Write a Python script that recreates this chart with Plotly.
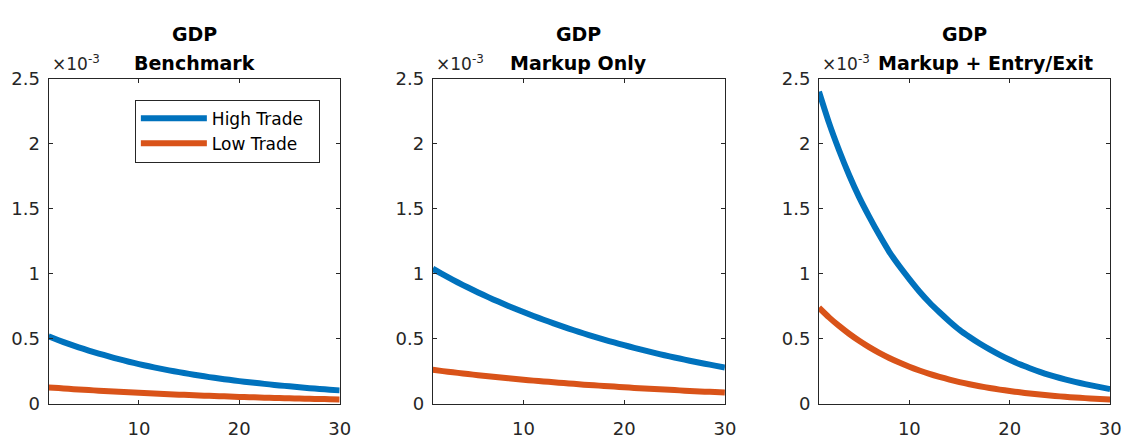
import plotly.graph_objects as go

# ---- data (values in units of 1e-3) ----
periods = list(range(1, 31))
panel_titles = ["Benchmark", "Markup Only", "Markup + Entry/Exit"]
main_title = "GDP"
series_names = ["High Trade", "Low Trade"]

high_benchmark = [0.52, 0.49, 0.462, 0.436, 0.411, 0.388, 0.366, 0.345, 0.325, 0.307,
                  0.29, 0.274, 0.259, 0.245, 0.232, 0.219, 0.207, 0.196, 0.186, 0.176,
                  0.167, 0.159, 0.151, 0.143, 0.136, 0.129, 0.122, 0.116, 0.11, 0.105]
low_benchmark = [0.128, 0.123, 0.117, 0.112, 0.107, 0.103, 0.098, 0.094, 0.09, 0.086,
                 0.082, 0.079, 0.075, 0.072, 0.069, 0.066, 0.063, 0.06, 0.058, 0.055,
                 0.053, 0.05, 0.048, 0.046, 0.044, 0.042, 0.04, 0.039, 0.037, 0.035]

high_markup = [1.04, 0.996, 0.954, 0.914, 0.876, 0.839, 0.804, 0.77, 0.738, 0.707,
               0.677, 0.648, 0.62, 0.593, 0.567, 0.542, 0.518, 0.495, 0.473, 0.452,
               0.432, 0.412, 0.393, 0.375, 0.358, 0.341, 0.325, 0.31, 0.295, 0.28]
low_markup = [0.263, 0.253, 0.244, 0.235, 0.226, 0.218, 0.21, 0.202, 0.195, 0.187,
              0.18, 0.174, 0.167, 0.161, 0.155, 0.149, 0.144, 0.139, 0.134, 0.129,
              0.124, 0.119, 0.115, 0.111, 0.107, 0.103, 0.099, 0.095, 0.092, 0.088]

high_entry = [2.40, 2.16, 1.95, 1.76, 1.59, 1.44, 1.30, 1.17, 1.06, 0.96,
              0.865, 0.78, 0.705, 0.635, 0.57, 0.515, 0.465, 0.42, 0.378, 0.34,
              0.305, 0.275, 0.247, 0.222, 0.2, 0.18, 0.162, 0.145, 0.13, 0.115]
low_entry = [0.74, 0.666, 0.60, 0.54, 0.486, 0.437, 0.393, 0.354, 0.319, 0.287,
             0.258, 0.232, 0.209, 0.188, 0.169, 0.152, 0.137, 0.123, 0.111, 0.10,
             0.09, 0.081, 0.073, 0.066, 0.059, 0.053, 0.048, 0.043, 0.039, 0.035]

y_tick_vals = [0, 0.5, 1, 1.5, 2, 2.5]
y_tick_text = ["0", "0.5", "1", "1.5", "2", "2.5"]
x_tick_vals = [10, 20, 30]
exponent_label = "×10<sup>-3</sup>"

panels = [(high_benchmark, low_benchmark), (high_markup, low_markup), (high_entry, low_entry)]

# ---- style ----
colors = ["#0072BD", "#D95319"]
axis_color = "#262626"
W, H = 1134, 443
x_domains = [(49, 343), (437, 732), (827, 1121)]
y_top, y_bot = 71, 412.6
legend_pad = "\u00a0" * 2

fig = go.Figure()
for i, (hi, lo) in enumerate(panels):
    sfx = "" if i == 0 else str(i + 1)
    for j, ys in enumerate([hi, lo]):
        fig.add_trace(go.Scatter(
            x=periods, y=ys, mode="lines", name=series_names[j] + legend_pad,
            line=dict(color=colors[j], width=6, shape="spline", smoothing=0.6),
            legendgroup=series_names[j], showlegend=(i == 0),
            xaxis="x" + sfx, yaxis="y" + sfx))

layout = dict(
    width=W, height=H, margin=dict(l=0, r=0, t=0, b=0),
    paper_bgcolor="white", plot_bgcolor="white",
    font=dict(family="DejaVu Sans", size=18, color=axis_color),
    legend=dict(x=323 / W, y=1 - 93 / H, xanchor="right", yanchor="top",
                bgcolor="white", bordercolor=axis_color, borderwidth=1,
                font=dict(family="DejaVu Sans", size=17, color="black"),
                itemwidth=66, tracegroupgap=0),
)
annotations = []
title_x_centers = [196, 584.5, 995]
for i, (x0, x1) in enumerate(x_domains):
    sfx = "" if i == 0 else str(i + 1)
    layout["xaxis" + sfx] = dict(
        domain=[x0 / W, x1 / W], range=[1, 30], anchor="y" + sfx,
        tickvals=x_tick_vals, ticks="inside", ticklen=4, tickcolor=axis_color,
        showline=True, linecolor=axis_color, linewidth=1, mirror="ticks",
        showgrid=False, zeroline=False, ticklabelstandoff=8,
        tickfont=dict(size=18, color=axis_color))
    layout["yaxis" + sfx] = dict(
        domain=[1 - y_bot / H, 1 - y_top / H], range=[0, 2.5], anchor="x" + sfx,
        tickvals=y_tick_vals, ticktext=y_tick_text, ticks="inside", ticklen=4,
        tickcolor=axis_color, showline=True, linecolor=axis_color, linewidth=1,
        mirror="ticks", showgrid=False, zeroline=False, ticklabelstandoff=4,
        tickfont=dict(size=18, color=axis_color))
    cx = (x0 + x1) / 2
    annotations.append(dict(text="<b>" + main_title + "</b>", x=cx / W, y=1 - 24 / H,
                            xref="paper", yref="paper", showarrow=False,
                            xanchor="center", yanchor="middle",
                            font=dict(family="DejaVu Sans", size=19, color="black")))
    annotations.append(dict(text="<b>" + panel_titles[i] + "</b>", x=title_x_centers[i] / W,
                            y=1 - 55 / H, xref="paper", yref="paper", showarrow=False,
                            xanchor="center", yanchor="middle",
                            font=dict(family="DejaVu Sans", size=19, color="black")))
    annotations.append(dict(text=exponent_label, x=(x0 + 1) / W, y=1 - 68 / H,
                            xref="paper", yref="paper", showarrow=False,
                            xanchor="left", yanchor="bottom",
                            font=dict(family="DejaVu Sans", size=17, color=axis_color)))
layout["annotations"] = annotations
fig.update_layout(**layout)

fig.write_html("out.html", config={"displayModeBar": False},
               post_script="document.body.style.margin='0';document.body.style.overflow='hidden';")
